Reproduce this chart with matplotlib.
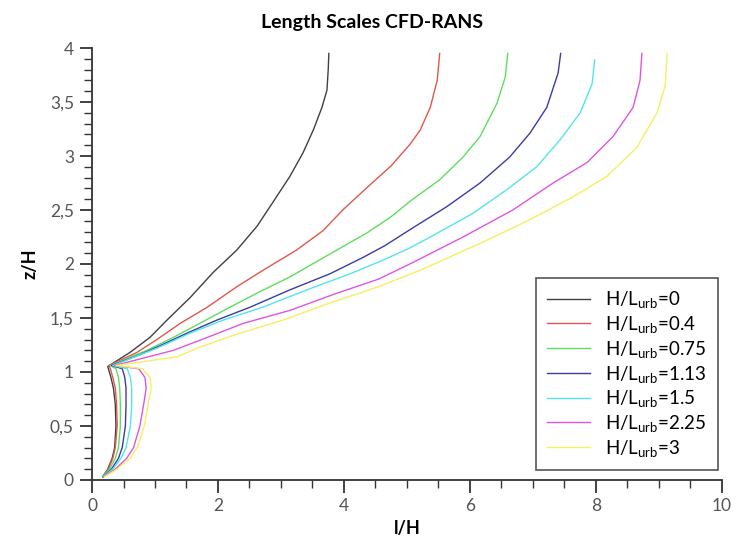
import numpy as np
import matplotlib
matplotlib.use("Agg")
import matplotlib.pyplot as plt
from matplotlib.ticker import MultipleLocator, FuncFormatter

# --- data (l/H vs z/H) ---
labels = ["0", "0.4", "0.75", "1.13", "1.5", "2.25", "3"]
colors = ["#404040", "#e0574c", "#5ede5e", "#3b3ba8", "#52e6ea", "#e055e0", "#f4f060"]

l_black = [0.17, 0.25, 0.32, 0.36, 0.38, 0.37, 0.34, 0.30, 0.26, 0.25, 0.60, 0.92, 1.19, 1.56, 1.92, 2.30, 2.62, 2.87, 3.14, 3.35, 3.52, 3.65, 3.73, 3.75, 3.76]
z_black = [0.03, 0.10, 0.20, 0.30, 0.50, 0.70, 0.85, 0.95, 1.03, 1.05, 1.18, 1.32, 1.48, 1.69, 1.92, 2.13, 2.35, 2.57, 2.81, 3.03, 3.25, 3.45, 3.61, 3.80, 3.95]

l_red = [0.17, 0.26, 0.33, 0.37, 0.40, 0.39, 0.37, 0.33, 0.29, 0.27, 0.71, 1.03, 1.40, 1.83, 2.30, 2.71, 3.25, 3.67, 3.98, 4.37, 4.75, 5.05, 5.21, 5.37, 5.48, 5.52]
z_red = [0.03, 0.10, 0.20, 0.30, 0.50, 0.70, 0.85, 0.95, 1.03, 1.06, 1.18, 1.30, 1.45, 1.60, 1.79, 1.94, 2.13, 2.31, 2.50, 2.71, 2.91, 3.11, 3.24, 3.45, 3.70, 3.95]

l_green = [0.17, 0.28, 0.37, 0.42, 0.45, 0.45, 0.44, 0.42, 0.38, 0.29, 0.87, 1.29, 1.71, 2.19, 2.62, 3.14, 3.62, 3.98, 4.37, 4.73, 5.07, 5.52, 5.89, 6.16, 6.43, 6.56, 6.60]
z_green = [0.03, 0.10, 0.20, 0.30, 0.50, 0.70, 0.85, 0.95, 1.03, 1.06, 1.20, 1.32, 1.45, 1.60, 1.73, 1.88, 2.04, 2.16, 2.29, 2.43, 2.59, 2.78, 2.99, 3.18, 3.49, 3.73, 3.95]

l_blue = [0.18, 0.31, 0.42, 0.48, 0.53, 0.54, 0.54, 0.52, 0.48, 0.31, 0.76, 1.03, 1.51, 1.98, 2.51, 3.14, 3.78, 4.30, 4.65, 5.08, 5.63, 6.16, 6.63, 6.95, 7.22, 7.40, 7.44]
z_blue = [0.03, 0.10, 0.20, 0.30, 0.50, 0.70, 0.85, 0.95, 1.03, 1.06, 1.16, 1.23, 1.36, 1.48, 1.60, 1.76, 1.91, 2.06, 2.17, 2.33, 2.53, 2.75, 2.99, 3.21, 3.45, 3.77, 3.95]

l_cyan = [0.18, 0.33, 0.46, 0.54, 0.61, 0.63, 0.63, 0.61, 0.56, 0.33, 1.03, 1.56, 2.08, 2.71, 3.41, 4.10, 4.60, 5.05, 5.37, 6.05, 6.59, 7.06, 7.43, 7.75, 7.94, 7.98]
z_cyan = [0.03, 0.10, 0.20, 0.30, 0.50, 0.70, 0.85, 0.95, 1.03, 1.06, 1.22, 1.36, 1.48, 1.60, 1.76, 1.91, 2.03, 2.15, 2.25, 2.47, 2.69, 2.90, 3.15, 3.40, 3.67, 3.89]

l_magenta = [0.19, 0.37, 0.55, 0.66, 0.76, 0.82, 0.86, 0.84, 0.74, 0.36, 1.29, 1.83, 2.40, 3.14, 3.89, 4.55, 5.08, 5.89, 6.68, 7.32, 7.86, 8.27, 8.59, 8.70, 8.73]
z_magenta = [0.03, 0.10, 0.20, 0.30, 0.50, 0.70, 0.85, 0.95, 1.03, 1.06, 1.20, 1.32, 1.45, 1.57, 1.73, 1.86, 2.01, 2.25, 2.50, 2.75, 2.94, 3.18, 3.45, 3.70, 3.95]

l_yellow = [0.20, 0.40, 0.60, 0.72, 0.83, 0.89, 0.94, 0.92, 0.80, 0.38, 1.35, 1.71, 2.35, 3.03, 3.78, 4.55, 5.20, 6.16, 6.95, 7.63, 8.17, 8.65, 8.97, 9.10, 9.13]
z_yellow = [0.03, 0.10, 0.20, 0.30, 0.50, 0.70, 0.85, 0.95, 1.03, 1.06, 1.14, 1.23, 1.36, 1.48, 1.64, 1.79, 1.94, 2.19, 2.41, 2.62, 2.81, 3.08, 3.40, 3.65, 3.95]

l_series = [l_black, l_red, l_green, l_blue, l_cyan, l_magenta, l_yellow]
z_series = [z_black, z_red, z_green, z_blue, z_cyan, z_magenta, z_yellow]

plt.rcParams['font.family'] = ['Lato', 'DejaVu Sans']
plt.rcParams['mathtext.fontset'] = 'custom'
plt.rcParams['mathtext.rm'] = 'Lato'
plt.rcParams['mathtext.default'] = 'rm'

fig = plt.figure(figsize=(7.45, 5.46), dpi=100)
ax = fig.add_axes([0.1235, 0.121, 0.8455, 0.791])

for l, z, lab, c in zip(l_series, z_series, labels, colors):
    ax.plot(l, z, color=c, lw=1.0, label=r'H/L$_{\rm urb}$=' + lab)

ax.set_xlim(0, 10)
ax.set_ylim(0, 4)
ax.xaxis.set_major_locator(MultipleLocator(2))
ax.xaxis.set_minor_locator(MultipleLocator(0.5))
ax.yaxis.set_major_locator(MultipleLocator(0.5))
ax.yaxis.set_minor_locator(MultipleLocator(0.1))
ax.yaxis.set_major_formatter(FuncFormatter(lambda v, p: ('%g' % v).replace('.', ',')))

for s in ['top', 'right']:
    ax.spines[s].set_visible(False)
for s in ['left', 'bottom']:
    ax.spines[s].set_color('#333333')
    ax.spines[s].set_linewidth(1.3)

ax.tick_params(which='major', direction='out', length=9, width=1.3, color='#333333',
               labelsize=12.5, labelcolor='#555555', pad=4)
ax.tick_params(which='minor', direction='out', length=6, width=1.0, color='#333333')

ax.set_xlabel('l/H', fontsize=13, fontweight='bold', labelpad=4)
ax.set_ylabel('z/H', fontsize=13, fontweight='bold', labelpad=8)
fig.suptitle('Length Scales CFD-RANS', x=0.5, y=0.975, fontsize=14, fontweight='bold')

leg = ax.legend(loc='lower right', bbox_to_anchor=(0.994, 0.023), borderaxespad=0,
                fontsize=13.5, frameon=True, fancybox=False, framealpha=1,
                edgecolor='#555555', handlelength=2.3, handletextpad=0.8,
                labelspacing=0.2, borderpad=0.6)
leg.get_frame().set_linewidth(1.2)

fig.savefig('out.png', dpi=100)
